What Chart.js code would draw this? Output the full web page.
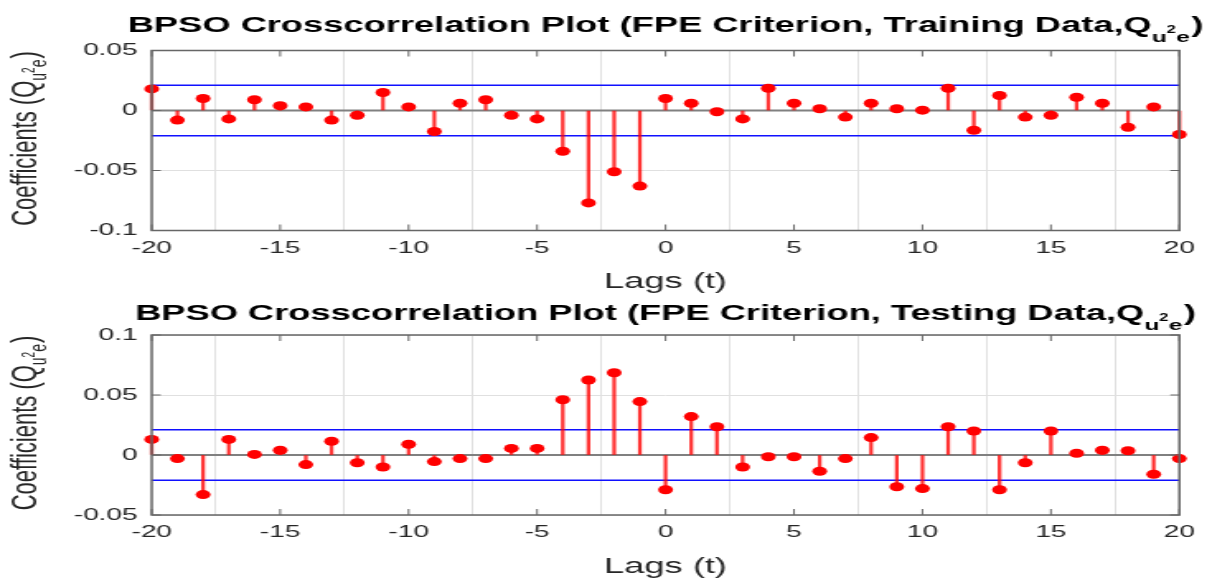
<!DOCTYPE html>
<html><head><meta charset="utf-8">
<script src="https://cdn.jsdelivr.net/npm/chart.js@4.4.0/dist/chart.umd.min.js"></script>
<style>
html,body{margin:0;padding:0;background:#fff;overflow:hidden;}
canvas{display:block;}
</style></head><body>
<canvas id="c1" width="732" height="295" style="width:1207px;height:295px"></canvas>
<canvas id="c2" width="732" height="284" style="width:1207px;height:284px"></canvas>
<script>
// ---------------- data ----------------
const lags = [-20,-19,-18,-17,-16,-15,-14,-13,-12,-11,-10,-9,-8,-7,-6,-5,-4,-3,-2,-1,0,
              1,2,3,4,5,6,7,8,9,10,11,12,13,14,15,16,17,18,19,20];
const trainingCoefficients = [0.018,-0.008,0.010,-0.007,0.009,0.004,0.003,-0.008,-0.004,0.015,0.003,
  -0.0175,0.006,0.009,-0.004,-0.007,-0.034,-0.077,-0.051,-0.063,0.010,
  0.006,-0.001,-0.007,0.0185,0.006,0.0015,-0.0055,0.006,0.0015,0.0003,
  0.0185,-0.0165,0.0125,-0.0055,-0.004,0.011,0.006,-0.014,0.003,-0.020];
const testingCoefficients = [0.013,-0.003,-0.033,0.013,0.0005,0.004,-0.008,0.0115,-0.0065,-0.010,0.009,
  -0.0055,-0.003,-0.003,0.0055,0.0055,0.046,0.0625,0.0685,0.0445,-0.029,
  0.032,0.0235,-0.010,-0.0015,-0.0015,-0.0135,-0.003,0.0145,-0.0265,-0.028,
  0.0235,0.020,-0.029,-0.0065,0.020,0.0015,0.004,0.0035,-0.016,-0.003];
const trainingBound = 0.021;
const testingBound = 0.021;
const xTickValues = [-20,-15,-10,-5,0,5,10,15,20];
const trainingYTicks = [-0.1,-0.05,0,0.05];
const testingYTicks = [-0.05,0,0.05,0.1];
const trainingTitle = 'BPSO Crosscorrelation Plot (FPE Criterion, Training Data,Q';
const testingTitle = 'BPSO Crosscorrelation Plot (FPE Criterion, Testing Data,Q';
const yLabelMain = 'Coefficients (Q';
const xLabelText = 'Lags (t)';

// ---------------- styling helpers ----------------
const FONT = "'Liberation Sans', Arial, Helvetica, sans-serif";
const AXIS_COLOR = '#666666';

function drawRich(ctx, parts, x, y) {
  let total = 0;
  parts.forEach(p => { ctx.font = p.font; p.w = ctx.measureText(p.t).width; total += p.w + (p.gap || 0); });
  let cx = x - total / 2;
  parts.forEach(p => { ctx.font = p.font; ctx.fillText(p.t, cx, y + (p.dy || 0)); cx += p.w + (p.gap || 0); });
}

const decorPlugin = {
  id: 'decor',
  beforeDatasetsDraw(chart) {
    const {ctx, chartArea: a, scales: {y}} = chart;
    const py = y.getPixelForValue(0);
    ctx.save();
    ctx.strokeStyle = '#808080';
    ctx.lineWidth = 1.8;
    ctx.beginPath(); ctx.moveTo(a.left, py); ctx.lineTo(a.right, py); ctx.stroke();
    ctx.restore();
  },
  afterDraw(chart, args, opts) {
    const {ctx, chartArea: a, scales: {x, y}} = chart;
    ctx.save();
    ctx.strokeStyle = AXIS_COLOR;
    ctx.lineWidth = 1.5;
    ctx.strokeRect(a.left, a.top, a.right - a.left, a.bottom - a.top);
    ctx.lineWidth = 1;
    ctx.beginPath();
    x.ticks.forEach(t => {
      const px = x.getPixelForValue(t.value);
      ctx.moveTo(px, a.bottom); ctx.lineTo(px, a.bottom - 6);
      ctx.moveTo(px, a.top); ctx.lineTo(px, a.top + 6);
    });
    y.ticks.forEach(t => {
      const py = y.getPixelForValue(t.value);
      ctx.moveTo(a.left, py); ctx.lineTo(a.left + 5.5, py);
      ctx.moveTo(a.right, py); ctx.lineTo(a.right - 5.5, py);
    });
    ctx.stroke();
    ctx.fillStyle = '#000';
    ctx.textBaseline = 'alphabetic';
    const cx = (a.left + a.right) / 2;
    drawRich(ctx, [
      {t: opts.title, font: 'bold 22px ' + FONT},
      {t: 'u', font: 'bold 15px ' + FONT, dy: 10},
      {t: '2', font: 'bold 10px ' + FONT, dy: 1.5},
      {t: 'e', font: 'bold 15px ' + FONT, dy: 10.5, gap: 1},
      {t: ')', font: 'bold 22px ' + FONT}
    ], cx, opts.titleBaseline);
    ctx.fillStyle = '#262626';
    ctx.font = '22px ' + FONT;
    ctx.textAlign = 'center';
    ctx.fillText(xLabelText, cx, opts.xLabelBaseline);
    ctx.textAlign = 'left';
    ctx.save();
    ctx.translate(22.4, (a.top + a.bottom) / 2 - 2);
    ctx.rotate(-Math.PI / 2);
    drawRich(ctx, [
      {t: yLabelMain, font: '22px ' + FONT},
      {t: 'u', font: '14px ' + FONT, dy: 6},
      {t: '2', font: '10px ' + FONT, dy: -1},
      {t: 'e', font: '14px ' + FONT, dy: 6, gap: 1},
      {t: ')', font: '22px ' + FONT}
    ], 0, 0);
    ctx.restore();
    ctx.restore();
  }
};

function makeChart(id, coef, bound, yTicks, title, cfg) {
  const pts = lags.map((l, i) => ({x: l, y: coef[i]}));
  return new Chart(document.getElementById(id), {
    type: 'scatter',
    data: {
      datasets: [
        {type: 'line', data: pts, showLine: false, pointRadius: 4.5, pointHoverRadius: 4.5,
         pointBackgroundColor: '#ff0000', pointBorderColor: '#ff0000', pointBorderWidth: 0, clip: false},
        {type: 'bar', data: pts, barThickness: 1.6, backgroundColor: 'rgba(255,0,0,0.8)',
         borderWidth: 0, clip: false},
        {type: 'line', data: [{x: lags[0], y: bound}, {x: lags[lags.length - 1], y: bound}],
         borderColor: '#1010ff', borderWidth: 1.6, pointRadius: 0, pointHoverRadius: 0},
        {type: 'line', data: [{x: lags[0], y: -bound}, {x: lags[lags.length - 1], y: -bound}],
         borderColor: '#1010ff', borderWidth: 1.6, pointRadius: 0, pointHoverRadius: 0}
      ]
    },
    options: {
      responsive: false,
      devicePixelRatio: 1,
      animation: false,
      events: [],
      layout: {padding: {left: 32, right: 14, top: cfg.top, bottom: 0}},
      plugins: {
        legend: {display: false}, tooltip: {enabled: false}, title: {display: false},
        decor: {title: title, titleBaseline: cfg.titleBaseline, xLabelBaseline: cfg.xLabelBaseline}
      },
      scales: {
        x: {
          type: 'linear', min: xTickValues[0], max: xTickValues[xTickValues.length - 1], offset: false,
          afterBuildTicks: s => { s.ticks = xTickValues.map(v => ({value: v})); },
          afterFit: s => { s.height = cfg.xHeight; },
          ticks: {font: {family: FONT, size: 17}, color: '#262626', padding: 7.3,
                  maxRotation: 0, autoSkip: false, callback: v => String(v)},
          grid: {color: '#e0e0e0', lineWidth: 1, drawTicks: false},
          border: {display: false}
        },
        y: {
          type: 'linear', min: yTicks[0], max: yTicks[yTicks.length - 1],
          afterBuildTicks: s => { s.ticks = yTicks.map(v => ({value: v})); },
          afterFit: s => { s.width = 60; },
          ticks: {font: {family: FONT, size: 17}, color: '#262626', padding: 8.5,
                  callback: v => String(v)},
          grid: {color: c => (c.tick && c.tick.value === 0) ? 'rgba(0,0,0,0)' : '#e0e0e0',
                 lineWidth: 1, drawTicks: false},
          border: {display: false}
        }
      }
    },
    plugins: [decorPlugin]
  });
}

makeChart('c1', trainingCoefficients, trainingBound, trainingYTicks, trainingTitle,
  {top: 50.5, xHeight: 64.5, titleBaseline: 31.7, xLabelBaseline: 287.7});
makeChart('c2', testingCoefficients, testingBound, testingYTicks, testingTitle,
  {top: 40, xHeight: 64, titleBaseline: 24.5, xLabelBaseline: 278});
</script>
</body></html>
